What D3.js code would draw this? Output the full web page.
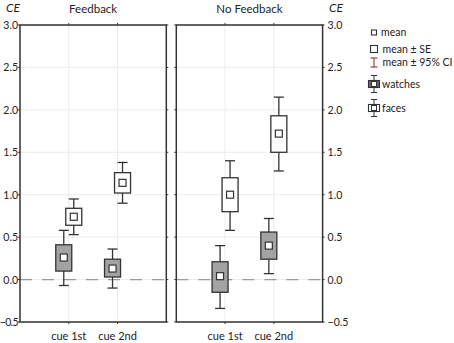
<!DOCTYPE html>
<html>
<head>
<meta charset="utf-8">
<script src="https://cdn.jsdelivr.net/npm/d3@7"></script>
<style>
  body { margin: 0; background: #fff; }
  text { font-family: Lato, "Open Sans", sans-serif; fill: #222; }
</style>
</head>
<body>
<div id="chart"></div>
<script>
// conditions (panels), cues (x categories), groups (series)
const conditions = ["Feedback", "No Feedback"];
const cues = ["cue 1st", "cue 2nd"];
const groups = ["watches", "faces"];
const yTicks = [-0.5, 0.0, 0.5, 1.0, 1.5, 2.0, 2.5, 3.0];

// order: Feedback cue 1st, Feedback cue 2nd, No Feedback cue 1st, No Feedback cue 2nd
const watchesMean   = [0.26, 0.13, 0.04, 0.40];
const watchesSeLow  = [0.10, 0.03, -0.15, 0.24];
const watchesSeHigh = [0.41, 0.24, 0.21, 0.56];
const watchesCiLow  = [-0.07, -0.10, -0.34, 0.07];
const watchesCiHigh = [0.58, 0.36, 0.40, 0.72];

const facesMean   = [0.74, 1.14, 1.00, 1.72];
const facesSeLow  = [0.64, 1.02, 0.80, 1.50];
const facesSeHigh = [0.84, 1.26, 1.20, 1.93];
const facesCiLow  = [0.53, 0.90, 0.58, 1.28];
const facesCiHigh = [0.95, 1.38, 1.40, 2.15];

const width = 454, height = 343;
const plotTop = 25, plotBottom = 322;

const svg = d3.select("#chart").append("svg")
  .attr("width", width)
  .attr("height", height);

const y = d3.scaleLinear().domain([-0.5, 3]).range([plotBottom, plotTop]);
const panelX = d3.scaleBand().domain(conditions).range([20, 322.6]).paddingInner(0.064);
const groupOffset = d3.scalePoint().domain(groups).range([-5, 5]);
const fills = { watches: "#a3a3a3", faces: "#fff" };

// build records from the arrays
const rows = [];
conditions.forEach(function(c, ci) {
  cues.forEach(function(q, qi) {
    const i = ci * 2 + qi;
    rows.push({ cond: c, cue: q, group: "watches", mean: watchesMean[i], seLo: watchesSeLow[i], seHi: watchesSeHigh[i], ciLo: watchesCiLow[i], ciHi: watchesCiHigh[i] });
    rows.push({ cond: c, cue: q, group: "faces", mean: facesMean[i], seLo: facesSeLow[i], seHi: facesSeHigh[i], ciLo: facesCiLow[i], ciHi: facesCiHigh[i] });
  });
});

conditions.forEach(function(c, ci) {
  const x0 = panelX(c), bw = panelX.bandwidth();
  const x = d3.scalePoint().domain(cues).range([x0, x0 + bw]).padding(1);
  const g = svg.append("g");

  // grid
  g.selectAll(".hgrid").data(yTicks).join("line")
    .attr("x1", x0).attr("x2", x0 + bw)
    .attr("y1", d => y(d)).attr("y2", d => y(d))
    .attr("stroke", "#ececec").attr("stroke-width", 1);
  g.selectAll(".vgrid").data(cues).join("line")
    .attr("x1", d => x(d)).attr("x2", d => x(d))
    .attr("y1", plotTop).attr("y2", plotBottom)
    .attr("stroke", "#ececec").attr("stroke-width", 1);

  // zero reference
  g.append("line")
    .attr("x1", x0).attr("x2", x0 + bw)
    .attr("y1", y(0)).attr("y2", y(0))
    .attr("stroke", "#9a9a9a").attr("stroke-width", 1.2)
    .attr("stroke-dasharray", "12,10");

  // small ticks on frame
  g.selectAll(".tl").data(yTicks).join("line")
    .attr("x1", x0 - 2).attr("x2", x0)
    .attr("y1", d => y(d)).attr("y2", d => y(d))
    .attr("stroke", "#333");
  g.selectAll(".tr").data(yTicks).join("line")
    .attr("x1", x0 + bw).attr("x2", x0 + bw + 2)
    .attr("y1", d => y(d)).attr("y2", d => y(d))
    .attr("stroke", "#333");
  g.selectAll(".tt").data(cues).join("line")
    .attr("x1", d => x(d)).attr("x2", d => x(d))
    .attr("y1", plotTop - 2).attr("y2", plotTop)
    .attr("stroke", "#333");
  g.selectAll(".tb").data(cues).join("line")
    .attr("x1", d => x(d)).attr("x2", d => x(d))
    .attr("y1", plotBottom).attr("y2", plotBottom + 2)
    .attr("stroke", "#333");

  // boxes
  const data = rows.filter(d => d.cond === c);
  const box = g.selectAll(".box").data(data).join("g")
    .attr("transform", d => "translate(" + (x(d.cue) + groupOffset(d.group)) + ",0)");
  box.append("line")
    .attr("y1", d => y(d.ciHi)).attr("y2", d => y(d.seHi))
    .attr("stroke", "#333").attr("stroke-width", 1.3);
  box.append("line")
    .attr("y1", d => y(d.seLo)).attr("y2", d => y(d.ciLo))
    .attr("stroke", "#333").attr("stroke-width", 1.3);
  box.append("line")
    .attr("x1", -5).attr("x2", 5)
    .attr("y1", d => y(d.ciHi)).attr("y2", d => y(d.ciHi))
    .attr("stroke", "#333").attr("stroke-width", 1.3);
  box.append("line")
    .attr("x1", -5).attr("x2", 5)
    .attr("y1", d => y(d.ciLo)).attr("y2", d => y(d.ciLo))
    .attr("stroke", "#333").attr("stroke-width", 1.3);
  box.append("rect")
    .attr("x", -8).attr("width", 16)
    .attr("y", d => y(d.seHi)).attr("height", d => y(d.seLo) - y(d.seHi))
    .attr("fill", d => fills[d.group]).attr("stroke", "#333").attr("stroke-width", 1.3);
  box.append("rect")
    .attr("x", -3.5).attr("width", 7)
    .attr("y", d => y(d.mean) - 3.5).attr("height", 7)
    .attr("fill", "#fff").attr("stroke", "#333").attr("stroke-width", 1.2);

  // frame
  g.append("rect")
    .attr("x", x0).attr("y", plotTop).attr("width", bw).attr("height", plotBottom - plotTop)
    .attr("fill", "none").attr("stroke", "#333").attr("stroke-width", 1.5);

  // title
  g.append("text")
    .attr("x", x0 + bw / 2).attr("y", 13)
    .attr("text-anchor", "middle").attr("font-size", 11.5)
    .text(c);

  // cue labels
  g.selectAll(".cl").data(cues).join("text")
    .attr("x", d => x(d)).attr("y", 339.5)
    .attr("text-anchor", "middle").attr("font-size", 11)
    .text(d => d);
});

// y axis labels left and right
const leftEdge = panelX(conditions[0]);
const rightEdge = panelX(conditions[1]) + panelX.bandwidth();
svg.selectAll(".yl").data(yTicks).join("text")
  .attr("x", leftEdge - 2).attr("y", d => y(d) + 4)
  .attr("text-anchor", "end").attr("font-size", 10.5)
  .attr("letter-spacing", d => d < 0 ? -0.6 : 0)
  .text(d3.format(".1f"));
svg.selectAll(".yr").data(yTicks).join("text")
  .attr("x", rightEdge + 5).attr("y", d => y(d) + 4)
  .attr("text-anchor", "start").attr("font-size", 10.5)
  .text(d3.format(".1f"));
svg.append("text").attr("x", 6).attr("y", 12)
  .attr("font-size", 12).attr("font-style", "italic").text("CE");
svg.append("text").attr("x", 329).attr("y", 12)
  .attr("font-size", 12).attr("font-style", "italic").text("CE");

// legend
const legendLabels = ["mean", "mean \u00b1 SE", "mean \u00b1 95% CI", "watches", "faces"];
const legendY = d3.scaleOrdinal().domain(legendLabels).range([32.5, 49, 62.5, 84, 108]);
const lg = svg.append("g");
const lx = 374;

lg.append("rect").attr("x", lx - 2.5).attr("y", legendY("mean") - 2.5).attr("width", 5).attr("height", 5)
  .attr("fill", "#fff").attr("stroke", "#333").attr("stroke-width", 1.1);
lg.append("rect").attr("x", lx - 3.5).attr("y", legendY("mean \u00b1 SE") - 3.5).attr("width", 7).attr("height", 7)
  .attr("fill", "#fff").attr("stroke", "#333").attr("stroke-width", 1.1);
const ciY = legendY("mean \u00b1 95% CI");
lg.append("line").attr("x1", lx).attr("x2", lx).attr("y1", ciY - 4.5).attr("y2", ciY + 4.5).attr("stroke", "#7a2a2a");
lg.append("line").attr("x1", lx - 3.5).attr("x2", lx + 3.5).attr("y1", ciY - 4.5).attr("y2", ciY - 4.5).attr("stroke", "#b83030").attr("stroke-width", 1.2);
lg.append("line").attr("x1", lx - 3.5).attr("x2", lx + 3.5).attr("y1", ciY + 4.5).attr("y2", ciY + 4.5).attr("stroke", "#b83030").attr("stroke-width", 1.2);

groups.forEach(function(gname) {
  const cy = legendY(gname);
  lg.append("line").attr("x1", lx).attr("x2", lx).attr("y1", cy - 8.5).attr("y2", cy + 8.5).attr("stroke", "#333");
  lg.append("line").attr("x1", lx - 3).attr("x2", lx + 3).attr("y1", cy - 8.5).attr("y2", cy - 8.5).attr("stroke", "#333");
  lg.append("line").attr("x1", lx - 3).attr("x2", lx + 3).attr("y1", cy + 8.5).attr("y2", cy + 8.5).attr("stroke", "#333");
  lg.append("rect").attr("x", lx - 5.5).attr("y", cy - 3.5).attr("width", 11).attr("height", 7)
    .attr("fill", gname === "watches" ? "#666" : "#fff").attr("stroke", "#333").attr("stroke-width", 1.1);
  lg.append("rect").attr("x", lx - 2.5).attr("y", cy - 2.5).attr("width", 5).attr("height", 5)
    .attr("fill", "#fff").attr("stroke", "#333").attr("stroke-width", 1);
});

lg.selectAll(".lt").data(legendLabels).join("text")
  .attr("x", (d, i) => i === 0 ? 381 : (i < 3 ? 382.5 : 382))
  .attr("y", d => legendY(d) + 3.5)
  .attr("font-size", 10.5)
  .text(d => d);
</script>
</body>
</html>
